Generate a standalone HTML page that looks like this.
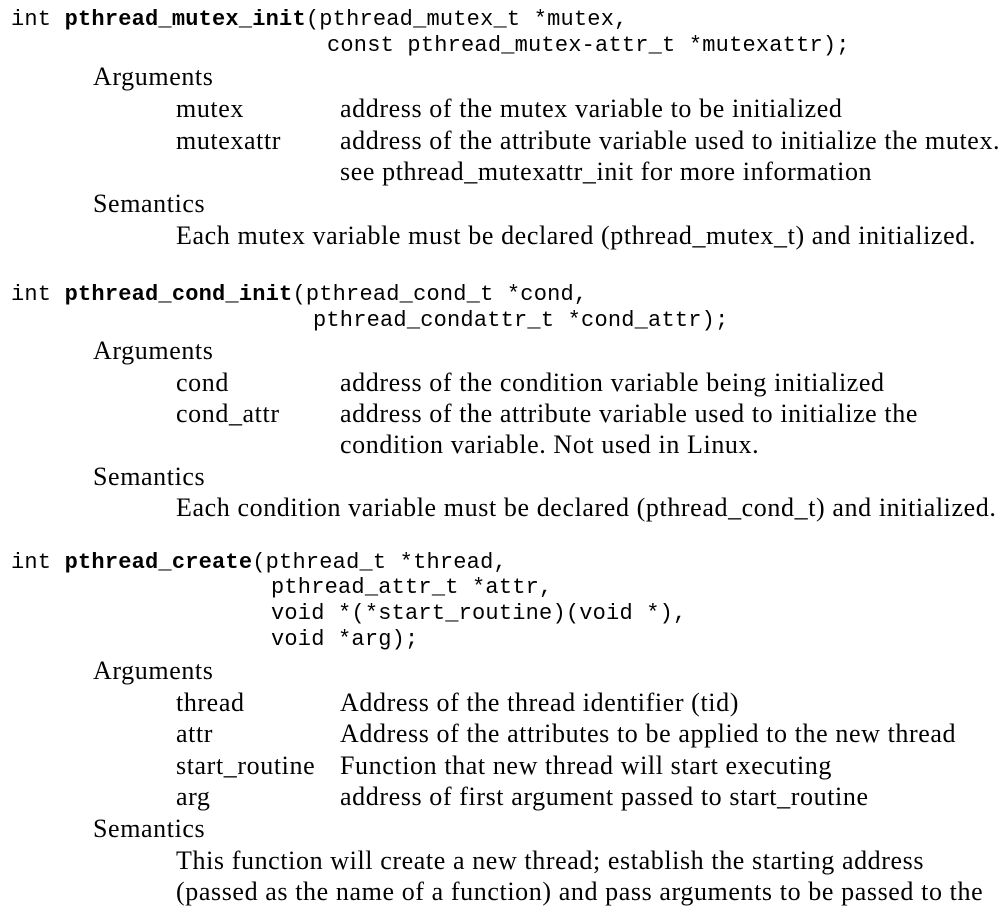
<!DOCTYPE html>
<html><head><meta charset="utf-8"><style>
body{margin:0;width:1004px;height:920px;background:#fff;position:relative;overflow:hidden;color:#000}
.m,.s{position:absolute;white-space:pre;line-height:30px;height:30px}
.m{font-family:"Liberation Mono",monospace;font-size:22px;letter-spacing:0.2px}
.s{font-family:"Liberation Serif",serif;font-size:26px;letter-spacing:0.6px}
b{font-weight:bold}
</style></head><body>
<div class="m" style="left:11px;top:5px">int <b>pthread_mutex_init</b>(pthread_mutex_t *mutex,</div>
<div class="m" style="left:327px;top:31px">const pthread_mutex-attr_t *mutexattr);</div>
<div class="s" style="left:93px;top:62px">Arguments</div>
<div class="s" style="left:176px;top:94px">mutex</div>
<div class="s" style="left:340px;top:94px">address of the mutex variable to be initialized</div>
<div class="s" style="left:176px;top:126px">mutexattr</div>
<div class="s" style="left:340px;top:126px">address of the attribute variable used to initialize the mutex.</div>
<div class="s" style="left:340px;top:157px">see pthread_mutexattr_init for more information</div>
<div class="s" style="left:93px;top:189px">Semantics</div>
<div class="s" style="left:176px;top:221px">Each mutex variable must be declared (pthread_mutex_t) and initialized.</div>

<div class="m" style="left:11px;top:280px">int <b>pthread_cond_init</b>(pthread_cond_t *cond,</div>
<div class="m" style="left:313px;top:306px">pthread_condattr_t *cond_attr);</div>
<div class="s" style="left:93px;top:336px">Arguments</div>
<div class="s" style="left:176px;top:368px">cond</div>
<div class="s" style="left:340px;top:368px">address of the condition variable being initialized</div>
<div class="s" style="left:176px;top:399px">cond_attr</div>
<div class="s" style="left:340px;top:399px">address of the attribute variable used to initialize the</div>
<div class="s" style="left:340px;top:430px">condition variable. Not used in Linux.</div>
<div class="s" style="left:93px;top:462px">Semantics</div>
<div class="s" style="left:176px;top:493px">Each condition variable must be declared (pthread_cond_t) and initialized.</div>

<div class="m" style="left:11px;top:548px">int <b>pthread_create</b>(pthread_t *thread,</div>
<div class="m" style="left:271px;top:573px">pthread_attr_t *attr,</div>
<div class="m" style="left:271px;top:599px">void *(*start_routine)(void *),</div>
<div class="m" style="left:271px;top:625px">void *arg);</div>
<div class="s" style="left:93px;top:656px">Arguments</div>
<div class="s" style="left:176px;top:688px">thread</div>
<div class="s" style="left:340px;top:688px">Address of the thread identifier (tid)</div>
<div class="s" style="left:176px;top:719px">attr</div>
<div class="s" style="left:340px;top:719px">Address of the attributes to be applied to the new thread</div>
<div class="s" style="left:176px;top:751px">start_routine</div>
<div class="s" style="left:340px;top:751px">Function that new thread will start executing</div>
<div class="s" style="left:176px;top:782px">arg</div>
<div class="s" style="left:340px;top:782px">address of first argument passed to start_routine</div>
<div class="s" style="left:93px;top:814px">Semantics</div>
<div class="s" style="left:176px;top:846px">This function will create a new thread; establish the starting address</div>
<div class="s" style="left:176px;top:877px">(passed as the name of a function) and pass arguments to be passed to the</div>
</body></html>
